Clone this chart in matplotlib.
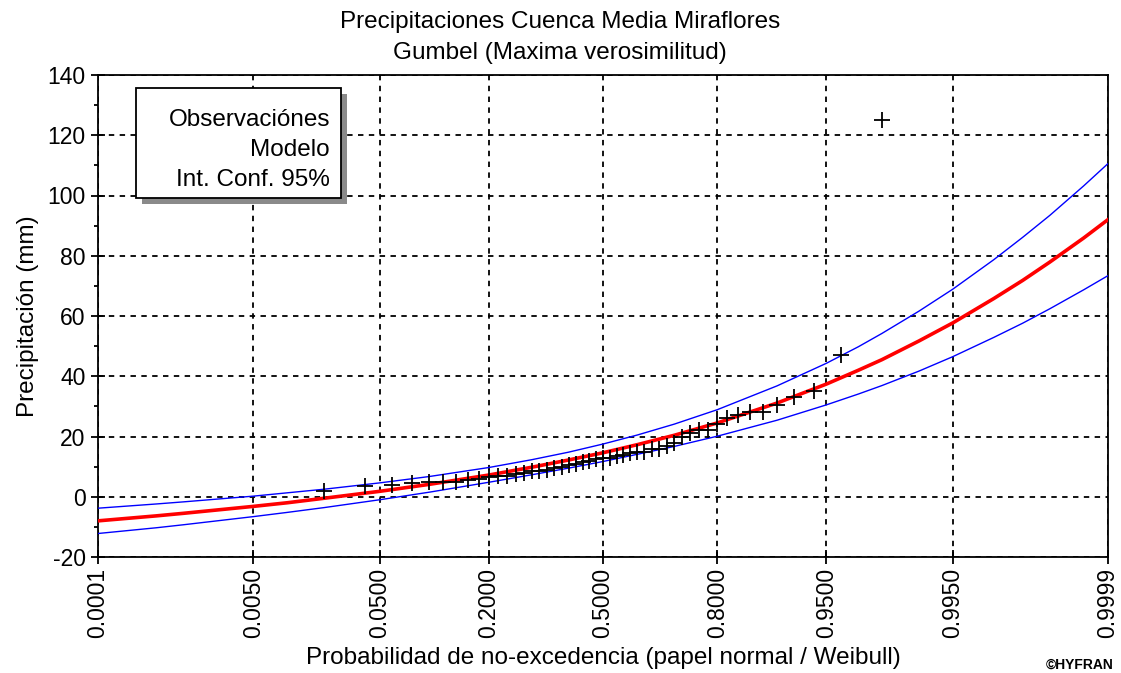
import numpy as np
import matplotlib
matplotlib.use("Agg")
import matplotlib.pyplot as plt
from matplotlib.patches import Rectangle
from matplotlib.ticker import MultipleLocator
from statistics import NormalDist

plt.rcParams['font.family'] = ['Liberation Sans', 'DejaVu Sans']
plt.rcParams['axes.unicode_minus'] = False

# ---------------- data ----------------
obs_prob = [0.02, 0.04, 0.06, 0.08, 0.10, 0.12, 0.14, 0.16, 0.18, 0.20,
            0.22, 0.24, 0.26, 0.28, 0.30, 0.32, 0.34, 0.36, 0.38, 0.40,
            0.42, 0.44, 0.46, 0.48, 0.50, 0.52, 0.54, 0.56, 0.58, 0.60,
            0.62, 0.64, 0.66, 0.68, 0.70, 0.72, 0.74, 0.76, 0.78, 0.80,
            0.82, 0.84, 0.86, 0.88, 0.90, 0.92, 0.94, 0.96, 0.98]
obs_precip = [2.0, 3.5, 4.0, 4.5, 5.0, 5.0, 5.0, 5.5, 6.0, 6.5,
              7.0, 7.0, 7.5, 8.0, 8.5, 8.5, 9.0, 9.5, 10.0, 10.5,
              11.0, 11.5, 12.0, 12.5, 13.0, 13.0, 13.5, 14.0, 14.5, 15.0,
              15.0, 16.0, 16.0, 17.0, 18.0, 20.0, 21.0, 22.0, 22.0, 24.0,
              26.0, 27.0, 28.0, 28.0, 30.5, 33.0, 35.0, 47.0, 125.0]

curve_prob = [0.0001, 0.0005, 0.001, 0.005, 0.01, 0.02, 0.05, 0.1, 0.2, 0.3,
              0.4, 0.5, 0.6, 0.7, 0.8, 0.9, 0.95, 0.97, 0.98, 0.99, 0.995,
              0.998, 0.999, 0.9995, 0.9998, 0.9999]
model = [-8.0, -6.35, -5.5, -3.2, -2.0, -0.5, 1.8, 4.1, 7.2, 9.8,
         12.2, 14.6, 17.3, 20.4, 24.5, 31.1, 37.4, 42.0, 45.5, 51.7, 57.7,
         65.8, 71.8, 77.9, 85.9, 92.0]
ci_upper = [-3.8, -2.4, -1.7, 0.2, 1.3, 2.5, 4.6, 6.7, 9.7, 12.3,
            14.8, 17.5, 20.5, 24.1, 28.9, 36.8, 44.3, 49.8, 54.2, 61.6, 68.9,
            78.7, 86.1, 93.4, 103.2, 110.6]
ci_lower = [-12.2, -10.3, -9.3, -6.6, -5.2, -3.6, -1.0, 1.5, 4.8, 7.3,
            9.5, 11.7, 14.1, 16.7, 20.1, 25.4, 30.5, 34.1, 36.9, 41.7, 46.5,
            52.9, 57.6, 62.4, 68.7, 73.4]

x_ticks = [0.0001, 0.005, 0.05, 0.2, 0.5, 0.8, 0.95, 0.995, 0.9999]
x_ticklabels = ["0.0001", "0.0050", "0.0500", "0.2000", "0.5000",
                "0.8000", "0.9500", "0.9950", "0.9999"]
y_ticks = [-20, 0, 20, 40, 60, 80, 100, 120, 140]

# ---------------- normal probability scale ----------------
_nd = NormalDist()
_inv = np.vectorize(lambda p: _nd.inv_cdf(min(max(p, 1e-12), 1 - 1e-12)),
                    otypes=[float])
_cdf = np.vectorize(lambda z: _nd.cdf(z), otypes=[float])


def fwd(p):
    p = np.asarray(p, dtype=float)
    if p.size == 0:
        return p
    return _inv(p)


def inv(z):
    z = np.asarray(z, dtype=float)
    if z.size == 0:
        return z
    return _cdf(z)


W, H = 1121, 673
fig = plt.figure(figsize=(W / 100, H / 100), dpi=100)
ax = fig.add_axes([98 / W, 1 - 557 / H, 1010 / W, 482 / H])
ax.set_xscale('function', functions=(fwd, inv))

FS = 16.5
TFS = 17.5

ax.plot(curve_prob, ci_upper, color='#0000ff', lw=1.0, zorder=3)
ax.plot(curve_prob, ci_lower, color='#0000ff', lw=1.0, zorder=3)
ax.plot(curve_prob, model, color='#ff0000', lw=2.6, zorder=4)
ax.plot(obs_prob, obs_precip, linestyle='none', marker='+', color='black',
        markersize=11, mew=1.3, zorder=5)

ax.set_xlim(0.0001, 0.9999)
ax.set_ylim(-20, 140)
ax.set_xticks(x_ticks)
ax.set_xticklabels(x_ticklabels, rotation=90)
ax.set_yticks(y_ticks)
ax.minorticks_off()
ax.yaxis.set_minor_locator(MultipleLocator(10))
ax.tick_params(axis='both', which='major', direction='inout', length=10,
               width=1.3, labelsize=FS, colors='black')
ax.tick_params(axis='y', which='minor', direction='out', length=3,
               width=1.3, colors='black')
ax.tick_params(axis='x', pad=3)
ax.tick_params(axis='y', which='major', pad=4)
ax.grid(True, which='major', color='black', linestyle=(0, (3, 3)),
        linewidth=1.3)
for s in ax.spines.values():
    s.set_linewidth(1.3)
    s.set_color('black')

ax.set_xlabel("Probabilidad de no-excedencia (papel normal / Weibull)",
              fontsize=TFS, labelpad=6)
ax.set_ylabel("Precipitación (mm)", fontsize=TFS, labelpad=6)

fig.text(560 / W, 1 - 22 / H, "Precipitaciones Cuenca Media Miraflores",
         ha='center', va='center', fontsize=TFS)
fig.text(560 / W, 1 - 53 / H, "Gumbel (Maxima verosimilitud)",
         ha='center', va='center', fontsize=TFS)

# legend box (text only, with shadow)
bx0, bx1 = 0.0376, 0.2406
by0, by1 = 0.7448, 0.973
shadow = Rectangle((bx0 + 0.006, by0 - 0.0125), bx1 - bx0, by1 - by0,
                   transform=ax.transAxes, facecolor='#8a8a8a',
                   edgecolor='none', zorder=9)
box = Rectangle((bx0, by0), bx1 - bx0, by1 - by0, transform=ax.transAxes,
                facecolor='white', edgecolor='black', lw=1.3, zorder=10)
ax.add_patch(shadow)
ax.add_patch(box)
for txt, yy in [("Observaciónes", 0.9066), ("Modelo", 0.8444),
                ("Int. Conf. 95%", 0.7822)]:
    ax.text(0.2297, yy, txt, transform=ax.transAxes, ha='right',
            va='center', fontsize=TFS, zorder=11)

fig.text(1113 / W, 1 - 665 / H, "©HYFRAN", ha='right', va='center',
         fontsize=10, fontweight='bold')

fig.savefig("out.png", dpi=100)
